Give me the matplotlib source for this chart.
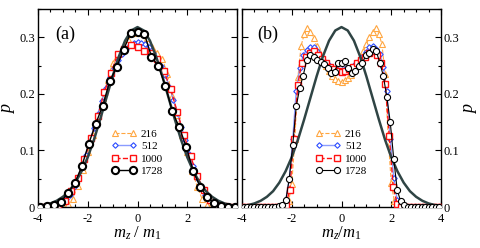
import numpy as np
import matplotlib
matplotlib.use("Agg")
import matplotlib.pyplot as plt
from matplotlib.ticker import MultipleLocator

plt.rcParams['font.family'] = ['Liberation Serif', 'DejaVu Serif']
plt.rcParams['mathtext.fontset'] = 'custom'
plt.rcParams['mathtext.rm'] = 'Liberation Serif'
plt.rcParams['mathtext.it'] = 'Liberation Serif:italic'

labels = ['216', '512', '1000', '1728']

# gaussian reference curve
x_gauss = np.linspace(-4, 4, 33)
y_gauss = [0.0019, 0.0035, 0.0063, 0.011, 0.018, 0.028, 0.043, 0.063, 0.088,
           0.119, 0.155, 0.193, 0.231, 0.266, 0.294, 0.312, 0.318,
           0.312, 0.294, 0.266, 0.231, 0.193, 0.155, 0.119, 0.088,
           0.063, 0.043, 0.028, 0.018, 0.011, 0.0063, 0.0035, 0.0019]

# panel (a)
xa_216 = np.linspace(-4, 4, 41)
ya_216 = [0, 0, 0, 0, 0, 0.001, 0.005, 0.015, 0.038, 0.065, 0.098, 0.128, 0.160,
          0.192, 0.225, 0.255, 0.270, 0.280, 0.297, 0.308, 0.312,
          0.308, 0.298, 0.283, 0.272, 0.262, 0.235, 0.197, 0.162, 0.128, 0.097,
          0.064, 0.036, 0.014, 0.004, 0.001, 0, 0, 0, 0, 0]

xa_512 = np.linspace(-4, 4, 51)
ya_512 = [0, 0, 0, 0.001, 0.002, 0.004, 0.008, 0.014, 0.022, 0.035, 0.051, 0.070,
          0.092, 0.115, 0.139, 0.164, 0.187, 0.210, 0.230, 0.246, 0.260, 0.271,
          0.280, 0.287, 0.290, 0.291,
          0.290, 0.288, 0.282, 0.272, 0.262, 0.249, 0.233, 0.213, 0.190, 0.167,
          0.142, 0.118, 0.094, 0.072, 0.052, 0.035, 0.022, 0.013, 0.007, 0.003,
          0.001, 0, 0, 0, 0]

xa_1000 = np.linspace(-4, 4, 31)
ya_1000 = [0, 0, 0.001, 0.004, 0.011, 0.028, 0.052, 0.085, 0.122, 0.160, 0.203,
           0.236, 0.271, 0.280, 0.287, 0.282,
           0.276, 0.272, 0.262, 0.240, 0.208, 0.168, 0.128, 0.090, 0.055, 0.030,
           0.012, 0.004, 0.001, 0, 0]

xa_1728 = np.linspace(-3.92, 3.92, 29)
ya_1728 = [0, 0.001, 0.003, 0.009, 0.025, 0.042, 0.072, 0.112, 0.147, 0.179,
           0.222, 0.247, 0.278, 0.307, 0.310,
           0.306, 0.266, 0.249, 0.214, 0.169, 0.141, 0.106, 0.064, 0.035, 0.018,
           0.007, 0.002, 0, 0]

# panel (b)
xb_216 = np.linspace(-4, 4, 65)
yb_216 = [0] * 14 + [0.002, 0.010, 0.040, 0.120, 0.230, 0.285, 0.305, 0.316, 0.310,
                     0.298, 0.285, 0.272, 0.262, 0.250, 0.240, 0.232, 0.226, 0.223,
                     0.221,
                     0.224, 0.228, 0.234, 0.242, 0.252, 0.263, 0.275, 0.288, 0.300,
                     0.310, 0.316, 0.306, 0.288, 0.235, 0.125, 0.042, 0.010, 0.002] + [0] * 14

xb_512 = np.linspace(-3.92, 3.92, 57)
yb_512 = [0] * 11 + [0.002, 0.012, 0.050, 0.120, 0.205, 0.245, 0.268, 0.278, 0.283,
                     0.282, 0.275, 0.266, 0.258, 0.252, 0.247, 0.244, 0.243,
                     0.242,
                     0.244, 0.245, 0.248, 0.253, 0.258, 0.265, 0.274, 0.282, 0.284,
                     0.280, 0.270, 0.248, 0.205, 0.120, 0.052, 0.012, 0.002] + [0] * 11

xb_1000 = np.linspace(-4, 4, 51)
yb_1000 = [0] * 11 + [0.004, 0.030, 0.120, 0.215, 0.255, 0.265, 0.272, 0.275, 0.268,
                      0.262, 0.255, 0.248, 0.244, 0.240,
                      0.238,
                      0.240, 0.244, 0.248, 0.254, 0.260, 0.266, 0.272, 0.275, 0.268,
                      0.255, 0.218, 0.125, 0.035, 0.005] + [0] * 11

xb_1728 = np.linspace(-3.92, 3.92, 57)
yb_1728 = [0] * 10 + [0.001, 0.004, 0.012, 0.050, 0.110, 0.178, 0.210, 0.232, 0.260,
                      0.268, 0.266, 0.260, 0.257, 0.252, 0.245, 0.236, 0.238, 0.255,
                      0.254,
                      0.258, 0.245, 0.236, 0.240, 0.250, 0.255, 0.268, 0.272, 0.280,
                      0.275, 0.255, 0.232, 0.195, 0.150, 0.085, 0.030, 0.010, 0.004] + [0] * 10

orange = '#ffa640'
blue = '#2a4bff'
blue_line = '#8a9cff'
red = '#ff1010'
gray = '#2f4444'

fig = plt.figure(figsize=(4.8, 2.48), dpi=100)
ax1 = fig.add_axes([38 / 480, 1 - 207 / 248, 199 / 480, 198 / 248])
ax2 = fig.add_axes([242 / 480, 1 - 207 / 248, 199 / 480, 198 / 248])


def draw(ax, data, big):
    (x1, y1), (x2, y2), (x3, y3), (x4, y4) = data
    ax.plot(x1, y1, '--', color=orange, lw=0.8, marker='^', ms=3.8, mfc='white',
            mec=orange, mew=0.8, label=labels[0], zorder=2)
    ax.plot(x2, y2, '-', color=blue_line, lw=1.0, marker='D', ms=2.8, mfc='white',
            mec=blue, mew=0.8, label=labels[1], zorder=3)
    ax.plot(x3, y3, '--', color=red, lw=1.0, marker='s', ms=3.8, mfc='white',
            mec=red, mew=1.0, label=labels[2], zorder=4)
    ax.plot(x_gauss, y_gauss, '-', color=gray, lw=1.8, zorder=5)
    ax.plot(x4, y4, '-', color='black', lw=1.0 if big else 0.8, marker='o',
            ms=5.2 if big else 4.4, mfc='white', mec='black',
            mew=1.5 if big else 0.8, label=labels[3], zorder=6)
    ax.set_xlim(-4, 4)
    ax.set_ylim(0, 0.35)
    ax.xaxis.set_major_locator(MultipleLocator(2))
    ax.xaxis.set_minor_locator(MultipleLocator(0.5))
    ax.yaxis.set_major_locator(MultipleLocator(0.1))
    ax.yaxis.set_minor_locator(MultipleLocator(0.05))
    ax.tick_params(which='both', direction='in', top=True, right=True,
                   left=True, bottom=True, labelsize=9, pad=2)
    ax.tick_params(axis='x', which='both', pad=4)
    ax.tick_params(which='major', length=4, width=0.8)
    ax.tick_params(which='minor', length=2, width=0.8)
    for s in ax.spines.values():
        s.set_linewidth(1.0)
    ax.set_yticks([0, 0.1, 0.2, 0.3])
    ax.set_yticklabels(['0', '0.1', '0.2', '0.3'])
    leg = ax.legend(loc='center', bbox_to_anchor=(0.5, 0.275), frameon=False,
                    fontsize=8, numpoints=2, handlelength=2.2, handletextpad=0.4,
                    labelspacing=0.25, borderpad=0)
    return leg


draw(ax1, [(xa_216, ya_216), (xa_512, ya_512), (xa_1000, ya_1000), (xa_1728, ya_1728)], True)
draw(ax2, [(xb_216, yb_216), (xb_512, yb_512), (xb_1000, yb_1000), (xb_1728, yb_1728)], False)

ax1.set_xticks([-4, -2, 0, 2, 4])
ax1.set_xticklabels(['-4', '-2', '0', '2', ''])
ax2.set_xticks([-4, -2, 0, 2, 4])
ax2.set_xticklabels(['-4', '-2', '0', '2', '4'])
ax2.yaxis.tick_right()
ax2.tick_params(which='both', left=True, right=True, labelleft=False, labelright=True)

ax1.set_xlabel(r'$m_z\ /\ m_1$', fontsize=12, labelpad=0)
ax2.set_xlabel(r'$m_z/m_1$', fontsize=12, labelpad=0)
ax1.set_ylabel(r'$p$', fontsize=13, labelpad=2)
ax2.set_ylabel(r'$p$', fontsize=13, labelpad=2)
ax2.yaxis.set_label_position('right')

ax1.text(0.085, 0.85, '(a)', transform=ax1.transAxes, fontsize=13)
ax2.text(0.075, 0.85, '(b)', transform=ax2.transAxes, fontsize=13)

fig.savefig('out.png', dpi=100)
